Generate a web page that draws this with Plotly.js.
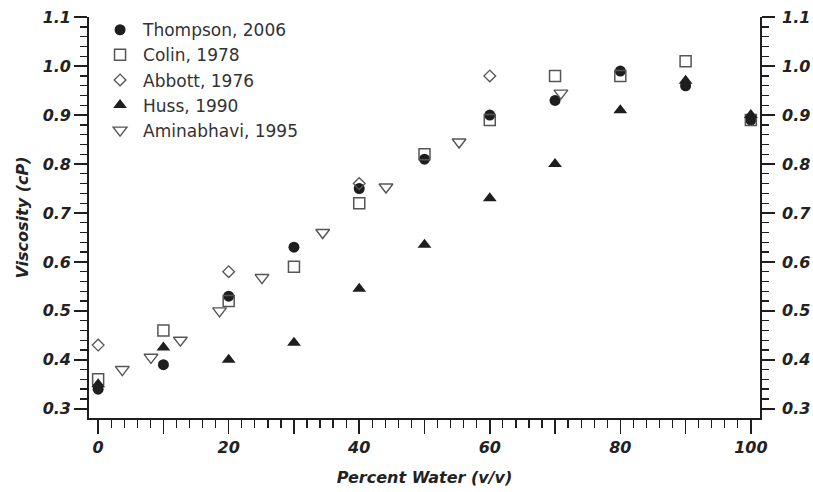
<!DOCTYPE html>
<html>
<head>
<meta charset="utf-8">
<script src="https://cdn.plot.ly/plotly-3.0.1.min.js"></script>
<style>
  html, body { margin: 0; padding: 0; background: #fff; }
  #chart { width: 813px; height: 492px; }
</style>
</head>
<body>
<div id="chart"></div>
<script>
// Viscosity of water / ethanol mixtures from five literature sources
const thompsonX = [0, 10, 20, 30, 40, 50, 60, 70, 80, 90, 100];
const thompsonY = [0.34, 0.39, 0.53, 0.63, 0.75, 0.81, 0.90, 0.93, 0.99, 0.96, 0.89];

const colinX = [0, 10, 20, 30, 40, 50, 60, 70, 80, 90, 100];
const colinY = [0.36, 0.46, 0.52, 0.59, 0.72, 0.82, 0.89, 0.98, 0.98, 1.01, 0.89];

const abbottX = [0, 20, 40, 60];
const abbottY = [0.43, 0.58, 0.76, 0.98];

const hussX = [0, 10, 20, 30, 40, 50, 60, 70, 80, 90, 100];
const hussY = [0.35, 0.425, 0.40, 0.435, 0.545, 0.635, 0.73, 0.80, 0.91, 0.97, 0.90];

const aminabhaviX = [3.7, 8.1, 12.6, 18.6, 25.1, 34.4, 44.1, 55.3, 70.9];
const aminabhaviY = [0.38, 0.405, 0.44, 0.50, 0.568, 0.66, 0.753, 0.845, 0.945];

const xTickVals = [0, 10, 20, 30, 40, 50, 60, 70, 80, 90, 100];
const xTickText = ['0', '', '20', '', '40', '', '60', '', '80', '', '100'];

const INK = '#1e1e1e';
const OPEN = '#555555';
const tickFont = { family: 'DejaVu Sans', size: 16, weight: 'bold', style: 'italic', color: '#222' };
const titleFont = { family: 'DejaVu Sans', size: 16, weight: 'bold', style: 'italic', color: '#222' };

// The last series sits on the right-hand viscosity axis (same range as the left one)
const traces = [
  { name: 'Thompson, 2006', x: thompsonX, y: thompsonY, type: 'scatter', mode: 'markers',
    marker: { symbol: 'circle', size: 11, color: INK } },
  { name: 'Colin, 1978', x: colinX, y: colinY, type: 'scatter', mode: 'markers',
    marker: { symbol: 'square-open', size: 11, color: OPEN, line: { width: 1.5 } } },
  { name: 'Abbott, 1976', x: abbottX, y: abbottY, type: 'scatter', mode: 'markers',
    marker: { symbol: 'diamond-open', size: 9, color: OPEN, line: { width: 1.3 } } },
  { name: 'Huss, 1990', x: hussX, y: hussY, type: 'scatter', mode: 'markers',
    marker: { symbol: 'triangle-up', size: 12, color: INK } },
  { name: 'Aminabhavi, 1995', x: aminabhaviX, y: aminabhaviY, type: 'scatter', mode: 'markers',
    yaxis: 'y2',
    marker: { symbol: 'triangle-down-open', size: 12, color: OPEN, line: { width: 1.4 } } }
];

const yRange = [0.281, 1.1005];
const yAxisCommon = {
  range: yRange,
  tickmode: 'linear', tick0: 0.3, dtick: 0.1, tickformat: '.1f',
  ticks: 'outside', ticklen: 13, tickwidth: 1.6, tickcolor: INK,
  minor: { tickmode: 'linear', tick0: 0.3, dtick: 0.02, ticks: 'outside', ticklen: 7, tickwidth: 1.3, tickcolor: INK },
  showline: true, linewidth: 1.8, linecolor: INK,
  showgrid: false, zeroline: false,
  tickfont: tickFont,
  fixedrange: true
};

const layout = {
  width: 813, height: 492,
  margin: { l: 89, r: 53, t: 17, b: 74 },
  paper_bgcolor: '#fff', plot_bgcolor: '#fff',
  showlegend: true,
  legend: {
    x: 0.012, y: 1.012, xanchor: 'left', yanchor: 'top',
    itemwidth: 36,
    bgcolor: 'rgba(0,0,0,0)', borderwidth: 0,
    font: { family: 'DejaVu Sans', size: 17, color: '#333' }
  },
  xaxis: {
    range: [-1.4, 101.4],
    tickmode: 'array', tickvals: xTickVals, ticktext: xTickText,
    ticks: 'outside', ticklen: 14, tickwidth: 1.6, tickcolor: INK,
    minor: { tickmode: 'linear', tick0: 0, dtick: 2, ticks: 'outside', ticklen: 8, tickwidth: 1.3, tickcolor: INK },
    showline: true, linewidth: 1.8, linecolor: INK,
    showgrid: false, zeroline: false,
    tickfont: tickFont,
    title: { text: 'Percent Water (v/v)', font: titleFont, standoff: 16 },
    fixedrange: true
  },
  yaxis: Object.assign({}, yAxisCommon, {
    side: 'left',
    title: { text: 'Viscosity (cP)', font: titleFont, standoff: 10 }
  }),
  yaxis2: Object.assign({}, yAxisCommon, {
    side: 'right', overlaying: 'y', anchor: 'x',
    ticklabelstandoff: 4
  })
};

Plotly.newPlot('chart', traces, layout, { staticPlot: true, displayModeBar: false });
</script>
</body>
</html>
